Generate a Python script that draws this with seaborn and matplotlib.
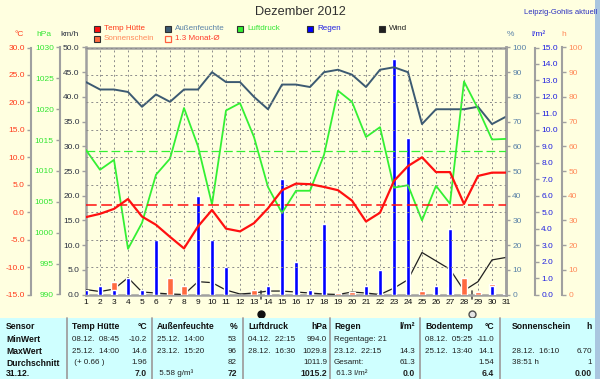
import matplotlib
matplotlib.use('Agg')
import matplotlib.pyplot as plt
import matplotlib.transforms as mtransforms
from matplotlib.patches import Rectangle
import numpy as np
import pandas as pd
import seaborn as sns

# daily values, December 2012
days = list(range(1, 32))
temp = [-0.9, -0.3, 0.6, 2.4, -0.8, -2.3, -4.5, -6.6, -2.6, 0.4, -3.0, -3.5, -2.0, 0.7, 4.0, 5.2,
        5.1, 4.6, 4.0, 2.1, -1.7, -0.1, 5.7, 8.4, 10.0, 7.3, 7.3, 1.5, 6.6, 7.2, 7.2]
humidity = [86, 83, 83, 82, 76, 81, 78, 83, 83, 90, 86, 86, 80, 75, 85, 85,
            84, 90, 91, 89, 84, 91, 92, 90, 69, 75, 75, 75, 76, 69, 72]
pressure = [1013.4, 1010.2, 1011.8, 997.4, 1001.6, 1009.4, 1012.0, 1020.2, 1014.0, 1004.6, 1019.8,
            1021.0, 1015.5, 1007.4, 1003.2, 1006.8, 1006.8, 1012.6, 1023.0, 1021.2, 1015.5, 1017.1,
            1007.3, 1007.7, 1002.0, 1007.6, 1004.7, 1024.5, 1020.1, 1015.1, 1015.2]
wind = [1.0, 0.6, 1.1, 3.4, 0.5, 0.3, 0.1, 0.0, 2.6, 2.4, 0.9, 0.1, 0.3, 0.7, 0.7, 0.5,
        0.3, 0.1, 0.0, 0.5, 0.3, 0.0, 1.3, 3.0, 8.5, 6.8, 5.1, 0.8, 2.6, 7.0, 7.5]
rain = [0.3, 0.5, 0.3, 1.0, 0.3, 3.3, 0, 0, 6.0, 3.3, 1.7, 0, 0, 0.5, 7.0, 2.0,
        0.3, 4.3, 0, 0, 0.5, 1.5, 14.3, 9.5, 0, 0.5, 4.0, 0, 0, 0.5, 0]
sun = [0, 0, 4.9, 0, 1.5, 1.4, 6.6, 3.6, 0, 0, 0, 0, 1.7, 0.3, 0, 1.6,
       1.0, 0, 0.5, 1.2, 0, 0.3, 0, 0, 1.6, 1.0, 3.0, 6.7, 1.0, 4.3, 0.4]

temp_ref = 1.3          # 1.3 Monat-Ø
pressure_ref = 1013.2
moon_days = [13.5, 28.6]   # new moon, full moon

# summary table
row_labels = ['Sensor', 'MinWert', 'MaxWert', 'Durchschnitt', '31.12.']
sensor_names = ['Temp Hütte', 'Außenfeuchte', 'Luftdruck', 'Regen', 'Bodentemp', 'Sonnenschein']
sensor_units = ['°C', '%', 'hPa', 'l/m²', '°C', 'h']
sensor_notes = [
    ['08.12.  08:45', '25.12.  14:00', ' (+ 0.66 )', ''],
    ['25.12.  14:00', '23.12.  15:20', '', ' 5.58 g/m³'],
    ['04.12.  22:15', '28.12.  16:30', '', ''],
    ['Regentage: 21', '23.12.  22:15', 'Gesamt:', ' 61.3 l/m²'],
    ['08.12.  05:25', '25.12.  13:40', '', ''],
    ['', '28.12.  16:10', '38:51 h', ''],
]
sensor_values = [
    ['-10.2', '14.6', '1.96', '7.0'],
    ['53', '96', '82', '72'],
    ['994.0', '1029.8', '1011.9', '1015.2'],
    ['', '14.3', '61.3', '0.0'],
    ['-11.0', '14.1', '1.54', '6.4'],
    ['', '6.70', '1', '0.00'],
]

df = pd.DataFrame({'day': days, 'temp': temp, 'hum': humidity, 'p': pressure,
                   'wind': wind, 'rain': rain, 'sun': sun})

sns.set_style('white')
plt.rcParams['font.family'] = ['Liberation Sans', 'DejaVu Sans']

W, H = 600, 379
def fx(x):
    return x / W
def fy(y):
    return 1 - y / H

bg = '#FFFFE0'
grey = '#A0A0A0'
c_temp, c_hum, c_p, c_wind = '#FF1010', '#3C5A72', '#33F033', '#202020'
c_rain, c_sun = '#0000FF', '#FF6A40'
lab_temp, lab_p, lab_wind = '#FF3A1A', '#33E633', '#2A3040'
lab_hum, lab_rain, lab_sun = '#5A82A8', '#2020E0', '#FF8A5A'

fig = plt.figure(figsize=(6, 3.79), dpi=100)
fig.patch.set_facecolor(bg)

top, bottom, left, right = 47.5, 294.5, 86, 506
ax = fig.add_axes([fx(left), fy(bottom), (right - left) / W, (bottom - top) / H])
ax.set_facecolor(bg)

# twin axes, one per quantity
ax_sun = ax.twinx()
ax_rain = ax.twinx()
ax_hum = ax.twinx()
ax_p = ax.twinx()
ax_temp = ax.twinx()

# bars
ax_sun.bar(df['day'], df['sun'], width=0.36, color=c_sun, zorder=2)
ax_rain.bar(df['day'], df['rain'], width=0.24, color=c_rain, zorder=2)

# lines
sns.lineplot(data=df, x='day', y='wind', ax=ax, color=c_wind, linewidth=0.9, zorder=3)
sns.lineplot(data=df, x='day', y='hum', ax=ax_hum, color=c_hum, linewidth=1.4)
sns.lineplot(data=df, x='day', y='p', ax=ax_p, color=c_p, linewidth=1.3)
sns.lineplot(data=df, x='day', y='temp', ax=ax_temp, color=c_temp, linewidth=1.6)
ax_temp.axhline(temp_ref, color=c_temp, lw=1.1, ls=(0, (7, 3)))
ax_p.axhline(pressure_ref, color=c_p, lw=0.9, ls=(0, (7, 3)))

for a in [ax, ax_sun, ax_rain, ax_hum, ax_p, ax_temp]:
    a.set_xlabel('')
    a.set_ylabel('')

ax.set_xlim(1, 31)
ax.set_xticks(days)
ax.set_xticklabels([str(d) for d in days])
ax.tick_params(axis='x', length=0, pad=3, labelsize=6, colors='#101010')

# scales
ax.set_ylim(0, 50)
ax.set_yticks(np.arange(0, 51, 5))
ax.set_yticklabels([f'{v:.1f}' for v in np.arange(0, 51, 5)])
ax_temp.set_ylim(-15, 30)
ax_temp.set_yticks(np.arange(-15, 31, 5))
ax_temp.set_yticklabels([f'{v:.1f}' for v in np.arange(-15, 31, 5)])
ax_p.set_ylim(990, 1030)
ax_p.set_yticks(np.arange(990, 1031, 5))
ax_hum.set_ylim(0, 100)
ax_hum.set_yticks(np.arange(0, 101, 10))
ax_rain.set_ylim(0, 15)
ax_rain.set_yticks(np.arange(0, 16, 1))
ax_rain.set_yticklabels([f'{v:.1f}' for v in np.arange(0, 16, 1)])
ax_sun.set_ylim(0, 100)
ax_sun.set_yticks(np.arange(0, 101, 10))

# grid: vertical per day, horizontal on the °C ticks
ax.grid(axis='x', color='#8C8C8C', lw=0.7, ls=(0, (2, 3)))
ax.grid(axis='y', visible=False)
ax_temp.grid(axis='y', color='#8C8C8C', lw=0.7, ls=(0, (2, 3)))
for a in [ax_sun, ax_rain, ax_hum, ax_p]:
    a.grid(False)

for sp in ax.spines.values():
    sp.set_color(grey)
    sp.set_linewidth(1.8)
ax.tick_params(axis='y', length=3, width=1, color=grey, pad=1.5, labelsize=6, labelcolor=lab_wind)

def left_axis(a, pos, colour):
    for s in ['top', 'right', 'bottom']:
        a.spines[s].set_visible(False)
    a.spines['left'].set_visible(True)
    a.spines['left'].set_position(('axes', pos))
    a.spines['left'].set_color(grey)
    a.spines['left'].set_linewidth(1.5)
    a.yaxis.tick_left()
    a.tick_params(axis='y', length=3, width=1, color=grey, pad=1.5, labelsize=6, labelcolor=colour)

def right_axis(a, pos, colour):
    for s in ['top', 'left', 'bottom']:
        a.spines[s].set_visible(False)
    a.spines['right'].set_position(('axes', pos))
    a.spines['right'].set_color(grey)
    a.spines['right'].set_linewidth(1.5)
    a.tick_params(axis='y', length=3, width=1, color=grey, pad=1.5, labelsize=6, labelcolor=colour)

left_axis(ax_temp, (31 - left) / (right - left), lab_temp)
left_axis(ax_p, (60 - left) / (right - left), lab_p)
right_axis(ax_hum, 1.0, lab_hum)
right_axis(ax_rain, (535 - left) / (right - left), lab_rain)
right_axis(ax_sun, (562 - left) / (right - left), lab_sun)
ax_hum.spines['right'].set_linewidth(1.8)

# moon phase marks
trans = mtransforms.blended_transform_factory(ax.transData, fig.transFigure)
for d in moon_days:
    ax.plot([d, d], [fy(291), fy(299)], color='#505050', lw=1.2, transform=trans, clip_on=False)
ax.plot(moon_days[0], fy(314), 'o', ms=5, mfc='#101010', mec='#101010', transform=trans, clip_on=False)
ax.plot(moon_days[1], fy(314), 'o', ms=5, mfc='#E4E4E4', mec='#505050', mew=1, transform=trans, clip_on=False)

# title and headers
fig.text(fx(300), fy(12), 'Dezember 2012', ha='center', va='center', fontsize=9.2, color='#303030')
fig.text(fx(597), fy(12), 'Leipzig-Gohlis aktuell', ha='right', va='center', fontsize=5.5, color='#2A30C0')

fig.text(fx(19), fy(35), '°C', ha='center', va='center', fontsize=6, color=lab_temp)
fig.text(fx(44), fy(35), 'hPa', ha='center', va='center', fontsize=6, color=lab_p)
fig.text(fx(70), fy(35), 'km/h', ha='center', va='center', fontsize=6, color=lab_wind)
fig.text(fx(510), fy(34), '%', ha='center', va='center', fontsize=6, color=lab_hum)
fig.text(fx(538), fy(34), 'l/m²', ha='center', va='center', fontsize=6, color=lab_rain)
fig.text(fx(564), fy(34), 'h', ha='center', va='center', fontsize=6, color=lab_sun)

# legend
legend_items = [
    (94, 29, c_temp, 'Temp Hütte', lab_temp, True),
    (165, 29, c_hum, 'Außenfeuchte', lab_hum, True),
    (237, 29, c_p, 'Luftdruck', lab_p, True),
    (307, 29, c_rain, 'Regen', lab_rain, True),
    (379, 29, c_wind, 'Wind', '#202020', True),
    (94, 39, c_sun, 'Sonnenschein', lab_sun, True),
    (165, 39, c_temp, '1.3 Monat-Ø', '#FF3A2A', False),
]
for x0, y0, col, txt, tcol, filled in legend_items:
    if filled:
        fig.patches.append(Rectangle((fx(x0), fy(y0 + 3)), 6 / W, 6 / H, transform=fig.transFigure,
                                     facecolor=col, edgecolor='#303030', lw=0.8))
    else:
        fig.patches.append(Rectangle((fx(x0), fy(y0 + 3)), 6 / W, 6 / H, transform=fig.transFigure,
                                     facecolor='none', edgecolor='#FF6040', lw=0.9))
    fig.text(fx(x0 + 10), fy(y0), txt, ha='left', va='center', fontsize=5.8, color=tcol)

# summary table
fig.patches.append(Rectangle((0, 0), fx(595), fy(318), transform=fig.transFigure,
                             facecolor='#CFFFFF', edgecolor='none', zorder=0))
for xs in [67, 152, 243, 330, 420, 500]:
    fig.add_artist(plt.Line2D([fx(xs), fx(xs)], [0, fy(318)], color=grey, lw=1.3))
fig.patches.append(Rectangle((fx(595), 0), 5 / W, 1, transform=fig.transFigure,
                             facecolor='#A9C6DF', edgecolor='none'))

row_y = [326.5, 339.5, 351.5, 363, 373.5]
col_left = [72, 157, 248, 334, 425, 512]
col_right = [147, 237, 327, 415, 494, 592]
for r, lab in enumerate(row_labels):
    fig.text(fx(6), fy(row_y[r]), lab, ha='left', va='center', fontsize=6.2,
             fontweight='bold', color='#101010')
for i in range(len(sensor_names)):
    fig.text(fx(col_left[i]), fy(row_y[0]), sensor_names[i], ha='left', va='center',
             fontsize=6.2, fontweight='bold', color='#101010')
    fig.text(fx(col_right[i]), fy(row_y[0]), sensor_units[i], ha='right', va='center',
             fontsize=6.2, fontweight='bold', color='#101010')
    for r in range(4):
        bold = 'bold' if r == 3 else 'normal'
        fig.text(fx(col_left[i]), fy(row_y[r + 1]), sensor_notes[i][r], ha='left', va='center',
                 fontsize=5.8, color='#202020')
        fig.text(fx(col_right[i]), fy(row_y[r + 1]), sensor_values[i][r], ha='right', va='center',
                 fontsize=6.2 if r == 3 else 5.8, fontweight=bold, color='#202020')

fig.savefig('out.png', dpi=100, facecolor=bg)
